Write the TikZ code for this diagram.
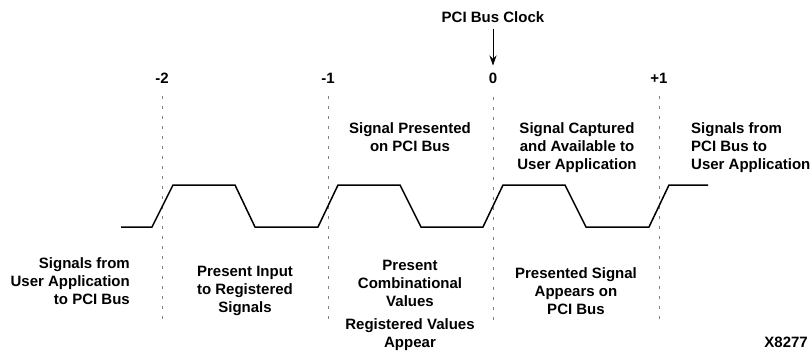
\documentclass[tikz,border=0pt]{standalone}
\usepackage{fontspec}
\setmainfont{Liberation Sans}
\usepackage{tikz}
\usetikzlibrary{arrows.meta}

\begin{document}
\begin{tikzpicture}[x=10pt, y=-10pt,
    lbl/.style={font=\fontsize{15}{18}\selectfont\bfseries, align=center, inner sep=0pt},
    tick/.style={gray, line width=0.6pt, dash pattern=on 3pt off 7pt, shorten <=13pt},
    wave/.style={line width=1.5pt, line join=miter}]
      \useasboundingbox (0,0) rectangle (81.2,35.1);

      \node[lbl] (clock) at (49.3, 1.7) {PCI Bus Clock};
      \node[lbl] (tm2) at (16.2, 7.8) {-2};
      \node[lbl] (tm1) at (32.8, 7.8) {-1};
      \node[lbl] (tz0) at (49.3, 7.8) {0};
      \node[lbl] (tp1) at (65.9, 7.8) {+1};

      \coordinate (bm2) at (16.2, 32.6);
      \coordinate (bm1) at (32.8, 32.6);
      \coordinate (bz0) at (49.3, 32.6);
      \coordinate (bp1) at (65.9, 32.6);

      \draw[tick] (tm2.south) -- (bm2);
      \draw[tick] (tm1.south) -- (bm1);
      \draw[tick] (tz0.south) -- (bz0);
      \draw[tick] (tp1.south) -- (bp1);

      \draw[-{Stealth[length=10pt,width=7pt]}, line width=0.7pt, shorten <=6pt, shorten >=7pt] (clock) -- (tz0);

      \draw[wave] (12.1, 22.7) -- (15.2, 22.7) -- (17.3, 18.5) -- (23.5, 18.5)
        -- (25.5, 22.7) -- (31.8, 22.7) -- (33.8, 18.5) -- (40.0, 18.5)
        -- (42.1, 22.7) -- (48.3, 22.7) -- (50.3, 18.5) -- (56.5, 18.5)
        -- (58.6, 22.7) -- (64.9, 22.7) -- (66.9, 18.5) -- (70.8, 18.5);

      \node[lbl] (presented) at (41.0, 13.7) {Signal Presented\\on PCI Bus};
      \node[lbl] (captured) at (57.7, 14.8) {Signal Captured\\and Available to\\User Application};
      \node[lbl, align=left, anchor=west] (frompci) at (69.1, 14.8) {Signals from\\PCI Bus to\\User Application};

      \node[lbl, align=right, anchor=east] (fromuser) at (13.0, 28.1) {Signals from\\User Application\\to PCI Bus};
      \node[lbl] (input) at (24.5, 29.1) {Present Input\\to Registered\\Signals};
      \node[lbl] (comb) at (41.0, 28.3) {Present\\Combinational\\Values};
      \node[lbl] (regval) at (41.0, 33.5) {Registered Values\\Appear};
      \node[lbl] (appears) at (57.6, 29.1) {Presented Signal\\Appears on\\PCI Bus};

      \node[lbl, anchor=east] (figid) at (80.8, 34.2) {X8277};
    \end{tikzpicture}
\end{document}
